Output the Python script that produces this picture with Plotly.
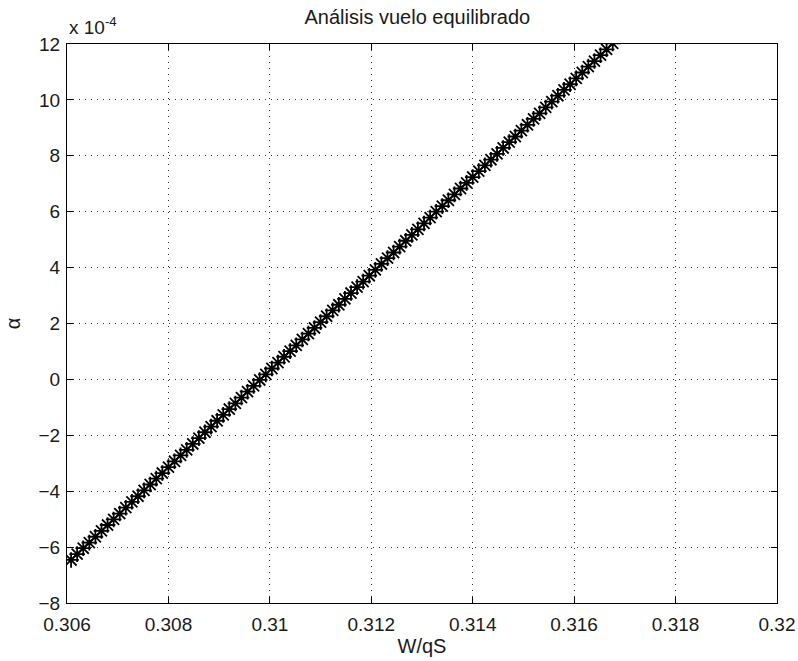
import plotly.graph_objects as go

# Trimmed-flight sweep: wing loading W/qS vs. angle of attack (alpha in units of 1e-4)
w_qs = [
    0.30608, 0.30620, 0.30632, 0.30644, 0.30656, 0.30668, 0.30680, 0.30692, 0.30704, 0.30716,
    0.30728, 0.30740, 0.30752, 0.30764, 0.30776, 0.30788, 0.30800, 0.30812, 0.30824, 0.30836,
    0.30848, 0.30860, 0.30872, 0.30884, 0.30896, 0.30908, 0.30920, 0.30932, 0.30944, 0.30956,
    0.30968, 0.30980, 0.30992, 0.31004, 0.31016, 0.31028, 0.31040, 0.31052, 0.31064, 0.31076,
    0.31088, 0.31100, 0.31112, 0.31124, 0.31136, 0.31148, 0.31160, 0.31172, 0.31184, 0.31196,
    0.31208, 0.31220, 0.31232, 0.31244, 0.31256, 0.31268, 0.31280, 0.31292, 0.31304, 0.31316,
    0.31328, 0.31340, 0.31352, 0.31364, 0.31376, 0.31388, 0.31400, 0.31412, 0.31424, 0.31436,
    0.31448, 0.31460, 0.31472, 0.31484, 0.31496, 0.31508, 0.31520, 0.31532, 0.31544, 0.31556,
    0.31568, 0.31580, 0.31592, 0.31604, 0.31616, 0.31628, 0.31640, 0.31652, 0.31664, 0.31676,
]
alpha_e4 = [
    -6.46, -6.25, -6.04, -5.84, -5.63, -5.42, -5.21, -5.01, -4.80, -4.59,
    -4.38, -4.18, -3.97, -3.76, -3.55, -3.35, -3.14, -2.93, -2.72, -2.52,
    -2.31, -2.10, -1.89, -1.69, -1.48, -1.27, -1.06, -0.86, -0.65, -0.44,
    -0.23, -0.02, 0.18, 0.39, 0.60, 0.81, 1.01, 1.22, 1.43, 1.64,
    1.84, 2.05, 2.26, 2.47, 2.67, 2.88, 3.09, 3.30, 3.50, 3.71,
    3.92, 4.13, 4.34, 4.54, 4.75, 4.96, 5.17, 5.37, 5.58, 5.79,
    6.00, 6.20, 6.41, 6.62, 6.83, 7.03, 7.24, 7.45, 7.66, 7.86,
    8.07, 8.28, 8.49, 8.69, 8.90, 9.11, 9.32, 9.52, 9.73, 9.94,
    10.15, 10.36, 10.56, 10.77, 10.98, 11.19, 11.39, 11.60, 11.81, 12.02,
]

x_ticks = [0.306, 0.308, 0.31, 0.312, 0.314, 0.316, 0.318, 0.32]
x_tick_text = ["0.306", "0.308", "0.31", "0.312", "0.314", "0.316", "0.318", "0.32"]
y_ticks = [-8, -6, -4, -2, 0, 2, 4, 6, 8, 10, 12]

FONT = "Liberation Sans, Arial, sans-serif"
TEXT = "#1a1a1a"

fig = go.Figure()
fig.add_trace(go.Scatter(
    x=w_qs, y=alpha_e4, mode="lines+markers",
    line=dict(color="black", width=1.5),
    marker=dict(symbol="asterisk-open", size=13, color="black",
                line=dict(color="black", width=1.8)),
    showlegend=False,
))

axis_common = dict(
    showline=True, linecolor="black", linewidth=1, mirror="ticks",
    ticks="inside", ticklen=6, tickcolor="black",
    showgrid=True, gridcolor="#333333", gridwidth=1, griddash="1px,5px",
    zeroline=False, automargin=False,
    tickfont=dict(family=FONT, size=19, color=TEXT),
)

fig.update_xaxes(
    range=[0.306, 0.32], tickvals=x_ticks, ticktext=x_tick_text,
    ticklabelstandoff=4,
    title=dict(text="W/qS", font=dict(family=FONT, size=20, color=TEXT), standoff=5),
    **axis_common,
)
fig.update_yaxes(
    range=[-8, 12], tickvals=y_ticks,
    ticklabelstandoff=2,
    title=dict(text="α", font=dict(family=FONT, size=20, color=TEXT), standoff=12),
    **axis_common,
)

fig.add_annotation(
    text="x 10<sup>-4</sup>", xref="paper", yref="paper", x=0.0, y=1.0,
    xanchor="left", yanchor="bottom", yshift=4, showarrow=False,
    font=dict(family=FONT, size=19, color=TEXT),
)

fig.update_layout(
    width=798, height=661,
    margin=dict(l=67, r=21, t=44, b=58),
    paper_bgcolor="white", plot_bgcolor="white",
    title=dict(text="Análisis vuelo equilibrado", x=0.523, xanchor="center",
               yref="container", y=0.975, yanchor="middle",
               font=dict(family=FONT, size=20, color=TEXT),
               automargin=False),
)

fig.write_html("out.html")
